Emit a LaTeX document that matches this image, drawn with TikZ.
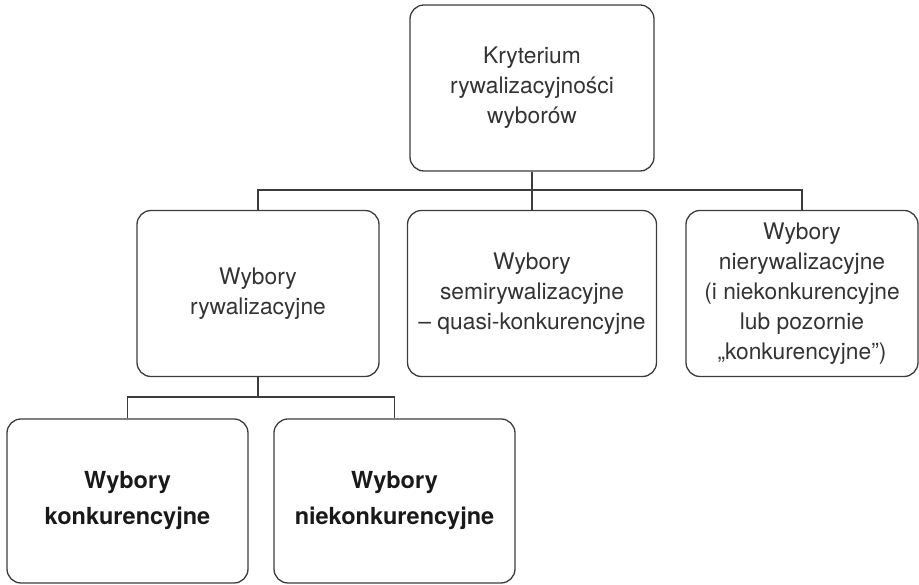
\documentclass[tikz,border=0pt]{standalone}
\usepackage{fontspec}
\setmainfont{TeX Gyre Heros}
\definecolor{linegray}{HTML}{3C3C3C}
\definecolor{textgray}{HTML}{333333}

\begin{document}
\begin{tikzpicture}[x=1pt, y=1pt,
    box/.style ={rectangle, rounded corners=14pt, draw=linegray, line width=1.3pt,
                 align=center, text=textgray, inner sep=0pt, minimum height=166pt,
                 font=\fontsize{22.8}{30}\selectfont},
    boldbox/.style ={box, minimum height=164pt, text=black!90, font=\fontsize{23.5}{36}\selectfont\bfseries},
    conn/.style ={draw=linegray, line width=1.3pt}]
   \useasboundingbox (0,0) rectangle (919,585);

   \node[box, minimum width=244pt] (kryt)    at (532,497)   {Kryterium\\rywalizacyjności\\wyborów};
   \node[box, minimum width=242pt] (ryw)     at (258,291.5) {Wybory\\rywalizacyjne};
   \node[box, minimum width=249pt] (semi)    at (532,291.5) {Wybory\\semirywalizacyjne\\– quasi-konkurencyjne};
   \node[box, minimum width=232pt] (nieryw)  at (802,291.5) {Wybory\\nierywalizacyjne\\(i niekonkurencyjne\\lub pozornie\\„konkurencyjne”)};
   \node[boldbox, minimum width=241pt] (konk)    at (127.5,84) {Wybory\\konkurencyjne};
   \node[boldbox, minimum width=241pt] (niekonk) at (394.5,84) {Wybory\\niekonkurencyjne};

   \coordinate (bus)  at (532,395);
   \coordinate (bus2) at (258,188);

   \draw[conn] (kryt.south) to (bus);
   \draw[conn] (bus) to (semi.north);
   \draw[conn] (ryw.north) |- (bus) -| (nieryw.north);

   \draw[conn] (ryw.south) to (bus2);
   \draw[conn] (konk.north) |- (bus2) -| (niekonk.north);
 \end{tikzpicture}
\end{document}
